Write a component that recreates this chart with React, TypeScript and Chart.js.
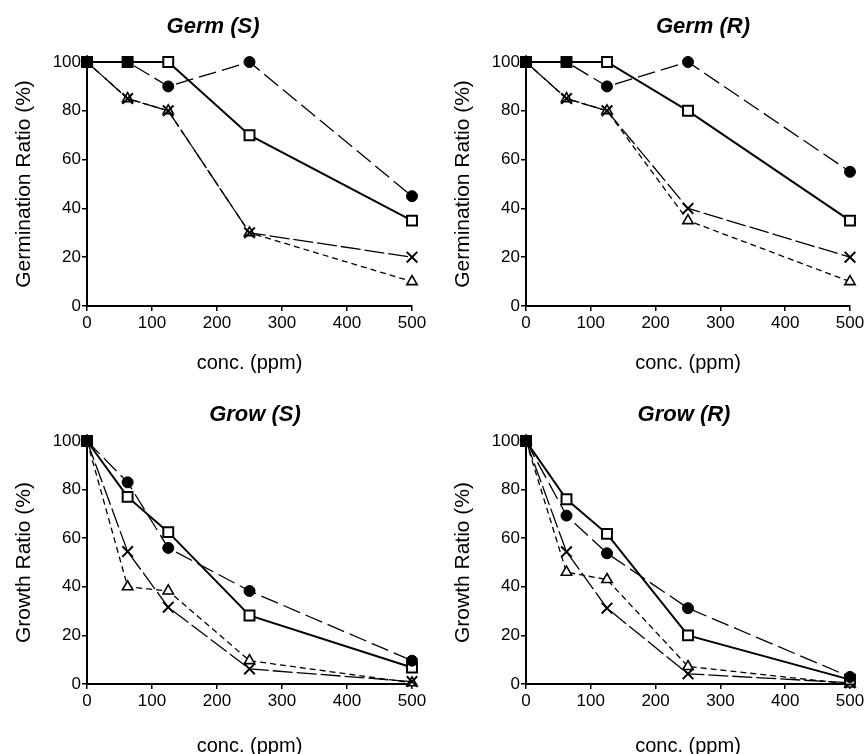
import React, { useEffect, useRef } from "react";
import { Chart, registerables } from "chart.js";

Chart.register(...registerables);

// ---------- data ----------
const concentrations = [0, 62.5, 125, 250, 500];
const xTickValues = [0, 100, 200, 300, 400, 500];
const yTickValues = [0, 20, 40, 60, 80, 100];

const germS_circle = [100, 100, 90, 100, 45];
const germS_square = [100, 100, 100, 70, 35];
const germS_cross = [100, 85, 80, 30, 20];
const germS_triangle = [100, 85, 80, 30, 10];

const germR_circle = [100, 100, 90, 100, 55];
const germR_square = [100, 100, 100, 80, 35];
const germR_cross = [100, 85, 80, 40, 20];
const germR_triangle = [100, 85, 80, 35, 10];

const growS_circle = [100, 83, 56, 38.3, 9.6];
const growS_square = [100, 77, 62.5, 28.2, 6.8];
const growS_cross = [100, 54.5, 31.6, 6.2, 1];
const growS_triangle = [100, 40, 38.3, 9.6, 0.5];

const growR_circle = [100, 69.3, 53.8, 31.2, 2.9];
const growR_square = [100, 76, 61.8, 20, 1.8];
const growR_cross = [100, 54.4, 31.2, 4.2, 0.5];
const growR_triangle = [100, 46, 43, 7.2, 0];

const titles = ["Germ (S)", "Germ (R)", "Grow (S)", "Grow (R)"];
const yAxisTitles = ["Germination Ratio (%)", "Germination Ratio (%)", "Growth Ratio (%)", "Growth Ratio (%)"];
const xAxisTitle = "conc. (ppm)";

const panelSeries = [
  [germS_circle, germS_square, germS_cross, germS_triangle],
  [germR_circle, germR_square, germR_cross, germR_triangle],
  [growS_circle, growS_square, growS_cross, growS_triangle],
  [growR_circle, growR_square, growR_cross, growR_triangle],
];

// ---------- layout / style ----------
const FONT = '"Liberation Sans", Arial, Helvetica, sans-serif';

type Layout = {
  left: number; top: number; w: number; h: number;
  areaLeft: number; areaRight: number; areaTop: number; areaBottom: number;
  titleX: number; titleY: number; yTitlePad: number; xTitlePad: number;
};

const layouts: Layout[] = [
  { left: 0, top: 0, w: 430, h: 378, areaLeft: 87, areaRight: 412, areaTop: 62, areaBottom: 306, titleX: 213, titleY: 27, yTitlePad: 12, xTitlePad: 7 },
  { left: 430, top: 0, w: 437, h: 378, areaLeft: 96, areaRight: 420, areaTop: 62, areaBottom: 306, titleX: 273, titleY: 27, yTitlePad: 21, xTitlePad: 7 },
  { left: 0, top: 378, w: 430, h: 376, areaLeft: 87, areaRight: 412, areaTop: 63, areaBottom: 306, titleX: 255, titleY: 37, yTitlePad: 12, xTitlePad: 0 },
  { left: 430, top: 378, w: 437, h: 376, areaLeft: 96, areaRight: 420, areaTop: 63, areaBottom: 306, titleX: 254, titleY: 37, yTitlePad: 21, xTitlePad: 0 },
];

const seriesStyles = [
  { pointStyle: "circle", pointRadius: 5.5, borderWidth: 1.3, borderDash: [18, 6], pointBackgroundColor: "#000", pointBorderWidth: 1 },
  { pointStyle: "rect", pointRadius: 7, borderWidth: 2, borderDash: [], pointBackgroundColor: "#fff", pointBorderWidth: 2 },
  { pointStyle: "crossRot", pointRadius: 7.5, borderWidth: 1.3, borderDash: [20, 4], pointBackgroundColor: "#000", pointBorderWidth: 2 },
  { pointStyle: "triangle", pointRadius: 6, borderWidth: 1.3, borderDash: [6, 4], pointBackgroundColor: "#fff", pointBorderWidth: 1.6 },
];

const panelTitlePlugin = {
  id: "panelTitle",
  afterDraw(chart: any, _args: any, opts: any) {
    const ctx = chart.ctx;
    ctx.save();
    ctx.font = `italic bold 22px ${FONT}`;
    ctx.fillStyle = "#000";
    ctx.textAlign = "center";
    ctx.textBaseline = "middle";
    ctx.fillText(opts.text, opts.x, opts.y);
    ctx.restore();
  },
};

function Panel({ index }: { index: number }) {
  const ref = useRef<HTMLCanvasElement | null>(null);
  const L = layouts[index];

  useEffect(() => {
    if (!ref.current) return;
    const series = panelSeries[index];
    const datasets = series.map((vals, si) => {
      const s = seriesStyles[si];
      return {
        data: vals.map((v, i) => ({ x: concentrations[i], y: v })),
        borderColor: "#000",
        borderWidth: s.borderWidth,
        borderDash: s.borderDash,
        pointStyle: s.pointStyle,
        pointRadius: s.pointRadius,
        pointBackgroundColor: s.pointBackgroundColor,
        pointBorderColor: "#000",
        pointBorderWidth: s.pointBorderWidth,
        fill: false,
        tension: 0,
        clip: false,
      };
    });

    const chart = new Chart(ref.current, {
      type: "line",
      data: { datasets } as any,
      plugins: [panelTitlePlugin as any],
      options: {
        animation: false,
        responsive: false,
        maintainAspectRatio: false,
        layout: {
          padding: { left: 0, top: L.areaTop, right: L.w - L.areaRight, bottom: 0 },
        },
        plugins: {
          legend: { display: false },
          tooltip: { enabled: false },
          title: { display: false },
          panelTitle: { text: titles[index], x: L.titleX, y: L.titleY },
        } as any,
        scales: {
          x: {
            type: "linear",
            min: 0,
            max: 500,
            afterFit: (scale: any) => { scale.height = L.h - L.areaBottom; },
            afterBuildTicks: (scale: any) => { scale.ticks = xTickValues.map((v) => ({ value: v })); },
            border: { display: true, color: "#000", width: 2 },
            grid: { display: true, drawOnChartArea: false, drawTicks: true, tickLength: 5, color: "#000", lineWidth: 1.5 },
            ticks: { color: "#000", font: { family: FONT, size: 17 }, padding: 2, maxRotation: 0 },
            title: {
              display: true,
              text: xAxisTitle,
              color: "#000",
              font: { family: FONT, size: 20, lineHeight: 0.8 },
              padding: { top: 0, bottom: L.xTitlePad },
            },
          },
          y: {
            type: "linear",
            min: 0,
            max: 100,
            afterFit: (scale: any) => { scale.width = L.areaLeft; },
            afterBuildTicks: (scale: any) => { scale.ticks = yTickValues.map((v) => ({ value: v })); },
            border: { display: true, color: "#000", width: 2 },
            grid: { display: true, drawOnChartArea: false, drawTicks: true, tickLength: 5, color: "#000", lineWidth: 1.5 },
            ticks: { color: "#000", font: { family: FONT, size: 17 }, padding: 1 },
            title: {
              display: true,
              text: yAxisTitles[index],
              color: "#000",
              font: { family: FONT, size: 21 },
              padding: { top: L.yTitlePad, bottom: 0 },
            },
          },
        },
      } as any,
    });
    return () => chart.destroy();
  }, [index]);

  return (
    <canvas
      ref={ref}
      width={L.w}
      height={L.h}
      style={{ position: "absolute", left: L.left, top: L.top, width: L.w, height: L.h }}
    />
  );
}

export default function App() {
  return (
    <div style={{ position: "absolute", left: 0, top: 0, width: 867, height: 754, background: "#fff", overflow: "hidden" }}>
      {[0, 1, 2, 3].map((i) => (
        <Panel key={i} index={i} />
      ))}
    </div>
  );
}
